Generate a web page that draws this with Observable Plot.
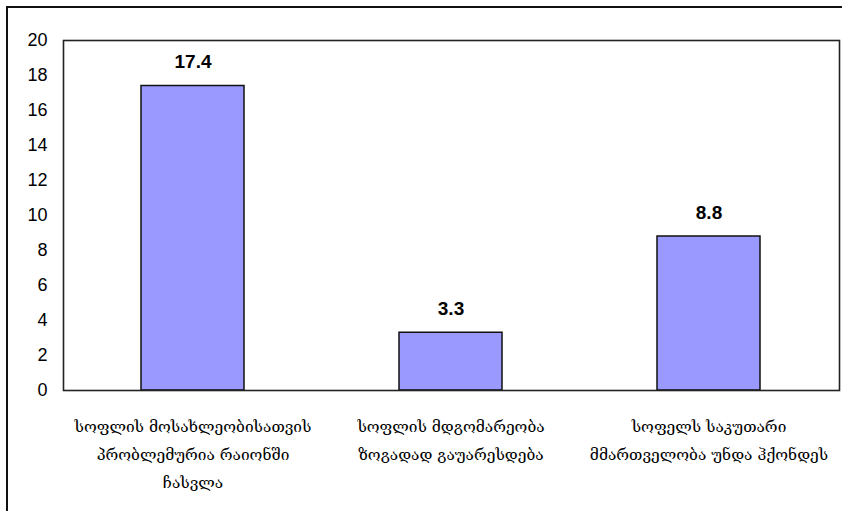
<!DOCTYPE html>
<html>
<head>
<meta charset="utf-8">
<script src="https://cdn.jsdelivr.net/npm/d3@7"></script>
<script src="https://cdn.jsdelivr.net/npm/@observablehq/plot@0.6"></script>
<style>
  html, body { margin: 0; padding: 0; background: #fff; }
  #wrap { position: relative; width: 842px; height: 511px; overflow: hidden; }
  #outer { position: absolute; left: 6px; top: 6px; width: 900px; height: 600px; border-left: 2px solid #111; border-top: 2px solid #111; pointer-events: none; }
</style>
</head>
<body>
<div id="wrap"><div id="outer"></div></div>
<script>
const categories = [
  "სოფლის მოსახლეობისათვის\nპრობლემურია რაიონში\nჩასვლა",
  "სოფლის მდგომარეობა\nზოგადად გაუარესდება",
  "სოფელს საკუთარი\nმმართველობა უნდა ჰქონდეს"
];
const values = [17.4, 3.3, 8.8];
const yTicks = [0, 2, 4, 6, 8, 10, 12, 14, 16, 18, 20];

const data = categories.map((c, i) => ({category: c, value: values[i]}));

const chart = Plot.plot({
  width: 842,
  height: 511,
  marginLeft: 63,
  marginRight: 3,
  marginTop: 40,
  marginBottom: 121,
  style: {background: "transparent", overflow: "visible"},
  x: {domain: categories, paddingInner: 0.6, paddingOuter: 0.3, label: null},
  y: {domain: [0, 20], label: null},
  marks: [
    Plot.barY(data, {x: "category", y: "value", fill: "#9999ff", stroke: "#111", strokeWidth: 1.5}),
    Plot.frame({stroke: "#222", strokeWidth: 1.6}),
    Plot.axisY({ticks: yTicks, tickSize: 0, tickPadding: 16, fontSize: 18, fontFamily: "Liberation Sans, Arial, sans-serif", fill: "#000", label: null, tickFormat: d => String(d)}),
    Plot.axisX({tickSize: 0, tickPadding: 22, fontSize: 15.5, lineHeight: 1.8, fontFamily: "DejaVu Serif, serif", fill: "#000", label: null}),
    Plot.text(data, {x: "category", y: "value", text: d => d.value.toFixed(1), dy: -24, lineAnchor: "middle", fontSize: 19, fontWeight: "bold", fontFamily: "Liberation Sans, Arial, sans-serif", fill: "#000"})
  ]
});
chart.style.position = "absolute";
chart.style.left = "0px";
chart.style.top = "0px";
document.getElementById("wrap").appendChild(chart);
</script>
</body>
</html>
